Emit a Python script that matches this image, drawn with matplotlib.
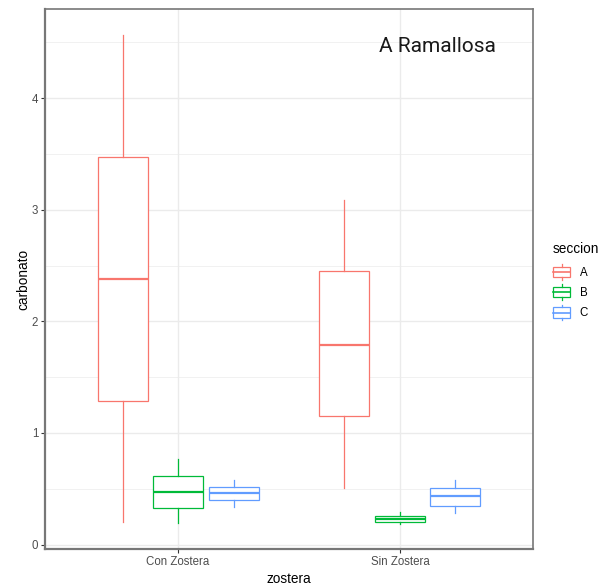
import matplotlib
matplotlib.use("Agg")
import matplotlib.pyplot as plt
from matplotlib.legend_handler import HandlerBase
from matplotlib.patches import Rectangle
from matplotlib.lines import Line2D

plt.rcParams['font.family'] = ['Liberation Sans', 'DejaVu Sans']

zostera = ["Con Zostera", "Sin Zostera"]
seccion = ["A", "B", "C"]
colors = ["#F8766D", "#00BA38", "#619CFF"]

# stats per seccion: [Con Zostera, Sin Zostera], each (whislo, q1, med, q3, whishi)
stats_A = [(0.20, 1.29, 2.38, 3.47, 4.57), (0.51, 1.15, 1.79, 2.45, 3.09)]
stats_B = [(0.19, 0.33, 0.475, 0.617, 0.77), (0.185, 0.205, 0.232, 0.256, 0.29)]
stats_C = [(0.34, 0.40, 0.46, 0.512, 0.58), (0.28, 0.345, 0.431, 0.503, 0.578)]
all_stats = [stats_A, stats_B, stats_C]

y_ticks = [0, 1, 2, 3, 4]
annot = "A Ramallosa"

fig = plt.figure(figsize=(6.07, 5.87), dpi=100)
ax = fig.add_axes([45/607, 1-549/587, (533-45)/607, (549-9)/587])

offsets = [-0.25, 0.0, 0.25]
for si, (st, col) in enumerate(zip(all_stats, colors)):
    bxs = []
    pos = []
    for zi, s in enumerate(st):
        bxs.append(dict(whislo=s[0], q1=s[1], med=s[2], q3=s[3], whishi=s[4], fliers=[]))
        pos.append(zi + 1 + offsets[si])
    ax.bxp(bxs, positions=pos, widths=0.225, showcaps=False, showfliers=False,
           patch_artist=True,
           boxprops=dict(facecolor="white", edgecolor=col, linewidth=0.9),
           medianprops=dict(color=col, linewidth=1.6),
           whiskerprops=dict(color=col, linewidth=0.9),
           manage_ticks=False, zorder=3)

ax.set_xlim(0.4, 2.6)
ax.set_ylim(-0.04, 4.80)
ax.set_xticks([1, 2])
ax.set_xticklabels(zostera)
ax.set_yticks(y_ticks)
ax.set_yticks([0.5, 1.5, 2.5, 3.5, 4.5], minor=True)
ax.tick_params(axis='y', which='minor', length=0)
ax.grid(True, which='major', color="#EBEBEB", linewidth=1.0, zorder=0)
ax.grid(True, which='minor', axis='y', color="#EBEBEB", linewidth=0.5, zorder=0)
ax.set_axisbelow(True)
ax.spines['left'].set_color("#777777"); ax.spines['left'].set_linewidth(1.6)
ax.spines['bottom'].set_color("#777777"); ax.spines['bottom'].set_linewidth(1.6)
ax.spines['right'].set_color("#777777"); ax.spines['right'].set_linewidth(1.2)
ax.spines['top'].set_color("#777777"); ax.spines['top'].set_linewidth(1.2)
ax.tick_params(axis='both', which='major', length=3, width=0.8, color="#333333",
               labelcolor="#4D4D4D", labelsize=8.3, pad=2)
ax.set_xlabel("zostera", fontsize=9.8, labelpad=3)
ax.set_ylabel("carbonato", fontsize=9.8, labelpad=1)

ax.text(2.17, 4.46, annot, fontsize=15, family=['Roboto', 'DejaVu Sans'],
        color="#1a1a1a", ha='center', va='center')


class BoxHandler(HandlerBase):
    def create_artists(self, legend, orig_handle, xdescent, ydescent, width, height, fontsize, trans):
        col = orig_handle.get_color()
        x0, y0 = -xdescent, -ydescent
        bw = width
        bx = x0
        bh = height * 0.66
        by = y0 + (height - bh) / 2
        rect = Rectangle((bx, by), bw, bh, facecolor="white", edgecolor=col,
                         linewidth=0.9, transform=trans)
        med = Line2D([bx, bx + bw], [y0 + height / 2] * 2, color=col, linewidth=1.2, transform=trans)
        wt = Line2D([x0 + width / 2] * 2, [by + bh, y0 + height], color=col, linewidth=0.9, transform=trans)
        wb = Line2D([x0 + width / 2] * 2, [y0, by], color=col, linewidth=0.9, transform=trans)
        return [rect, med, wt, wb]


handles = [Line2D([], [], color=c) for c in colors]
leg = fig.legend(handles, seccion, handler_map={Line2D: BoxHandler()},
                 loc='center left', bbox_to_anchor=(553/607, 1-281/587),
                 frameon=False, title="seccion", title_fontsize=9.8, fontsize=8.3,
                 handlelength=1.5, handleheight=1.7, labelspacing=0.42,
                 handletextpad=0.8, borderaxespad=0, borderpad=0)
leg._legend_box.align = "left"
leg._legend_box.sep = 6

fig.savefig("out.png", dpi=100)
